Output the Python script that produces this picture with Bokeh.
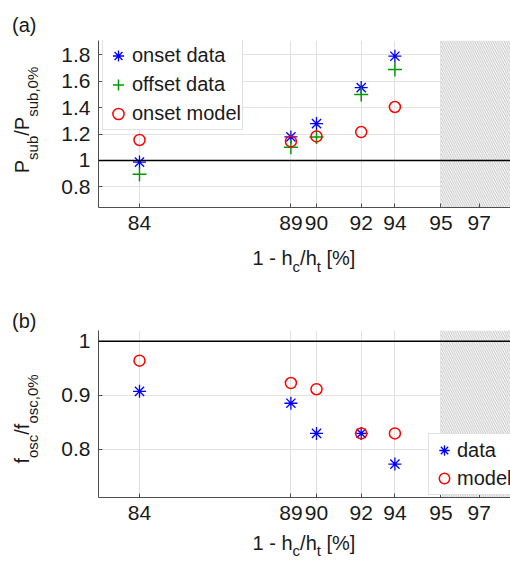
from bokeh.plotting import figure
from bokeh.models import (FixedTicker, Span, Legend, LegendItem, Range1d, Div)
from bokeh.layouts import column, row
from bokeh.embed import file_html
from bokeh.resources import INLINE

# ---------------- data ----------------
# non-uniform x axis: tick labels and where they sit on the axis
x_tick_labels = ["84", "89", "90", "92", "94", "95", "97"]
x_tick_coord = [41.0, 192.4, 218.0, 262.7, 296.4, 342.4, 380.7]
x_axis_span = (0.0, 412.0)
hatch_from_label = "95"

cases = ["84", "89", "90", "92", "94"]

# panel (a): P_sub / P_sub,0%
onset_data = [0.987, 1.178, 1.279, 1.552, 1.790]
offset_data = [0.895, 1.100, 1.178, 1.499, 1.690]
onset_model = [1.155, 1.144, 1.182, 1.215, 1.405]
ya_ticks = [0.8, 1.0, 1.2, 1.4, 1.6, 1.8]
ya_limits = (0.643, 1.909)

# panel (b): f_osc / f_osc,0%
f_data = [0.907, 0.885, 0.829, 0.829, 0.772]
f_model = [0.964, 0.9225, 0.911, 0.829, 0.829]
yb_ticks = [0.8, 0.9, 1.0]
yb_limits = (0.71, 1.02)

reference_level = 1.0

# ---------------- helpers ----------------
FONT = "Liberation Sans"
TXT = "#1a1a1a"
AX = "#4d4d4d"
CSS_FONT = "font-family:'Liberation Sans', Arial, sans-serif; color:#1a1a1a;"

LEFT_W = 45     # width of the column that holds the rotated y titles
FIG_W = 465


def sub(t, size, drop):
    return (f'<span style="font-size:{size}px; position:relative; top:{drop}px">'
            f'{t}</span>')


def xtitle_div(height, top, drop):
    html = (f'<div style="position:relative; width:510px; height:{height}px">'
            f'<div style="position:absolute; left:98px; width:412px; top:{top}px; '
            f'text-align:center; white-space:nowrap; font-size:20px; line-height:20px; {CSS_FONT}">'
            f'1 - h{sub("c", 15, drop)}/h{sub("t", 15, drop)} [%]</div></div>')
    return Div(text=html, width=510, height=height, margin=0)


def left_div(height, tag, tag_top, title_html, cy):
    html = (f'<div style="position:relative; width:{LEFT_W}px; height:{height}px">'
            f'<div style="position:absolute; left:12px; top:{tag_top}px; font-size:20px; '
            f'line-height:20px; white-space:nowrap; {CSS_FONT}">{tag}</div>'
            f'<div style="position:absolute; left:23px; top:{cy}px; '
            f'transform:translate(-50%,-50%) rotate(-90deg); white-space:nowrap; '
            f'font-size:20px; line-height:20px; {CSS_FONT}">{title_html}</div></div>')
    return Div(text=html, width=LEFT_W, height=height, margin=0)


def xpos(labels):
    m = dict(zip(x_tick_labels, x_tick_coord))
    return [m[l] for l in labels]


def base_fig(height, top, bottom, ylim, yticks):
    p = figure(width=FIG_W, height=height, output_backend="svg", toolbar_location=None,
               x_range=Range1d(*x_axis_span), y_range=Range1d(*ylim),
               min_border_left=98 - LEFT_W, min_border_right=0, min_border_top=top,
               min_border_bottom=bottom)
    p.outline_line_color = None
    p.xaxis.ticker = FixedTicker(ticks=x_tick_coord)
    p.xaxis.major_label_overrides = {c: l for c, l in zip(x_tick_coord, x_tick_labels)}
    p.yaxis.ticker = FixedTicker(ticks=yticks)
    p.yaxis.major_label_overrides = {t: f"{t:g}" for t in yticks}
    for ax in (p.xaxis, p.yaxis):
        ax.major_label_text_font = FONT
        ax.major_label_text_font_size = "21px"
        ax.major_label_text_color = TXT
        ax.major_tick_in = 4
        ax.major_tick_out = 0
        ax.minor_tick_in = 0
        ax.minor_tick_out = 0
        ax.axis_line_color = AX
        ax.major_tick_line_color = AX
        ax.major_label_standoff = 8
    p.xgrid.grid_line_color = "#e2e2e2"
    p.ygrid.grid_line_color = "#e2e2e2"
    # hatched (inaccessible) region, from the "95" position to the axis end
    p.quad(left=xpos([hatch_from_label]), right=[x_axis_span[1]],
           bottom=[ylim[0]], top=[ylim[1]], fill_color="white", line_color=None,
           hatch_pattern="\\", hatch_color="#a2a2a2", hatch_scale=4.5, hatch_weight=0.7)
    p.add_layout(Span(location=reference_level, dimension="width",
                      line_color="black", line_width=1.5))
    return p


xs = xpos(cases)

# ---------------- panel (a) ----------------
pa = base_fig(243, 40, 36, ya_limits, ya_ticks)
r1 = pa.scatter(xs, onset_data, marker="asterisk", size=13, line_color="blue", line_width=1.3)
r2 = pa.scatter(xs, offset_data, marker="cross", size=14, line_color="#009900", line_width=1.5)
r3 = pa.scatter(xs, onset_model, marker="circle", size=11, fill_color=None,
                line_color="red", line_width=1.5)
lega = Legend(items=[LegendItem(label="onset data", renderers=[r1]),
                     LegendItem(label="offset data", renderers=[r2]),
                     LegendItem(label="onset model", renderers=[r3])],
              location=(4, 77), label_text_font=FONT, label_text_font_size="20px",
              label_text_color=TXT, label_height=29, glyph_height=29, glyph_width=28,
              spacing=0, padding=1, label_standoff=-4, margin=0,
              border_line_color="#c4c4c4", background_fill_alpha=1.0)
pa.add_layout(lega)

ya_title = "P" + sub("sub", 15, 9) + "/P" + sub("sub,0%", 15, 9)
row_a = row(left_div(243, "(a)", 15, ya_title, 120), pa)
xt_a = xtitle_div(37, 5, 7)

# ---------------- panel (b) ----------------
pb = base_fig(250, 50, 33, yb_limits, yb_ticks)
s1 = pb.scatter(xs, f_data, marker="asterisk", size=13, line_color="blue", line_width=1.3)
s2 = pb.scatter(xs, f_model, marker="circle", size=11, fill_color=None,
                line_color="red", line_width=1.5)
legb = Legend(items=[LegendItem(label="data", renderers=[s1]),
                     LegendItem(label="model", renderers=[s2])],
              location=(330, 2), label_text_font=FONT, label_text_font_size="20px",
              label_text_color=TXT, label_height=28, glyph_height=28, glyph_width=26,
              spacing=0, padding=2, label_standoff=-11, margin=0,
              border_line_color="#c4c4c4", background_fill_alpha=1.0)
pb.add_layout(legb)

yb_title = "f" + sub("osc", 15, 9) + "/f" + sub("osc,0%", 15, 9)
row_b = row(left_div(250, "(b)", 31, yb_title, 139), pb)
xt_b = xtitle_div(34, 3, 6)

layout = column(row_a, xt_a, row_b, xt_b)
open("out.html", "w").write(file_html(layout, INLINE))
